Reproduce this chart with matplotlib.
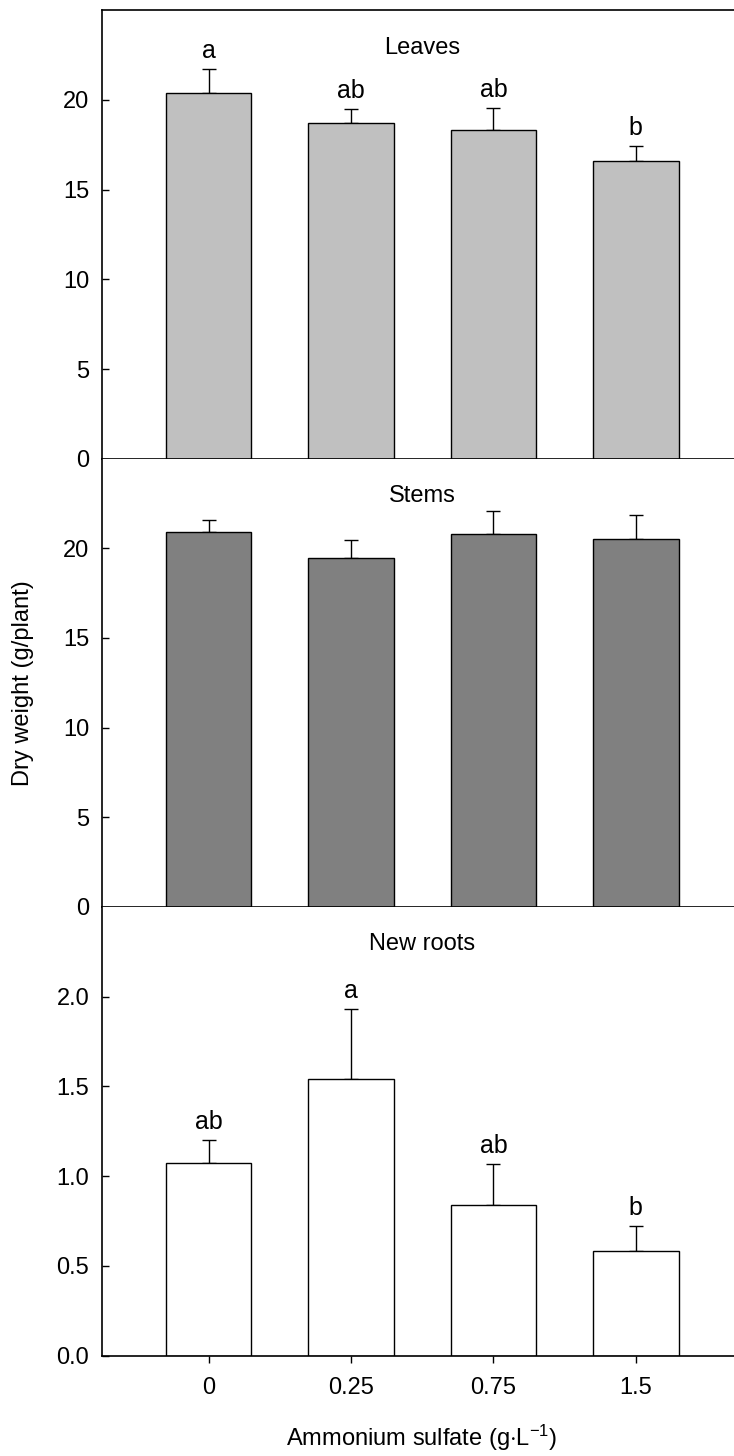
import matplotlib
matplotlib.use('Agg')
import matplotlib.pyplot as plt
import numpy as np

plt.rcParams['font.family'] = ['Liberation Sans', 'DejaVu Sans']
plt.rcParams['mathtext.fontset'] = 'custom'
plt.rcParams['mathtext.rm'] = 'Liberation Sans'
plt.rcParams['mathtext.it'] = 'Liberation Sans:italic'

# data
doses = ['0', '0.25', '0.75', '1.5']
leaves = [20.4, 18.72, 18.31, 16.6]
leaves_err = [1.3, 0.77, 1.25, 0.82]
leaves_letters = ['a', 'ab', 'ab', 'b']
stems = [20.93, 19.45, 20.8, 20.54]
stems_err = [0.67, 1.02, 1.29, 1.31]
roots = [1.072, 1.543, 0.840, 0.584]
roots_err = [0.131, 0.389, 0.226, 0.137]
roots_letters = ['ab', 'a', 'ab', 'b']

fs = 17
W, H = 734, 1456
fig = plt.figure(figsize=(W / 100, H / 100), dpi=100)

# axes span 4.5 bar slots of ~142.4 px; right edge falls just past the image
left = 101.7 / W
width = 641 / W
tops = [10.3, 458.7, 906.8]
bots = [458.7, 906.8, 1355.7]

panels = [
    ('Leaves', leaves, leaves_err, leaves_letters, '#c0c0c0', 25, [0, 5, 10, 15, 20], ['0', '5', '10', '15', '20']),
    ('Stems', stems, stems_err, None, '#808080', 25, [0, 5, 10, 15, 20], ['0', '5', '10', '15', '20']),
    ('New roots', roots, roots_err, roots_letters, 'white', 2.5, [0, 0.5, 1.0, 1.5, 2.0], ['0.0', '0.5', '1.0', '1.5', '2.0']),
]

x = np.arange(len(doses))
for i, (name, vals, errs, letters, col, ymax, yt, ytl) in enumerate(panels):
    ax = fig.add_axes([left, 1 - bots[i] / H, width, (bots[i] - tops[i]) / H])
    ax.bar(x, vals, width=0.6, color=col, edgecolor='black', linewidth=1.0, zorder=2)
    ax.errorbar(x, vals, yerr=[np.zeros(len(vals)), errs], fmt='none', ecolor='black',
                elinewidth=1.0, capsize=5, capthick=1.0, zorder=1)
    ax.set_xlim(-0.75, 3.75)
    ax.set_ylim(0, ymax)
    ax.set_yticks(yt)
    ax.set_yticklabels(ytl)
    ax.tick_params(axis='y', direction='in', length=5, width=1.0, pad=9, labelsize=fs)
    ax.spines['right'].set_visible(False)
    for s in ['left', 'bottom', 'top']:
        ax.spines[s].set_linewidth(1.2)
    if i > 0:
        ax.spines['top'].set_visible(False)
    if i < 2:
        ax.set_xticks([])
    else:
        ax.set_xticks(x)
        ax.set_xticklabels(doses)
        ax.tick_params(axis='x', direction='out', length=5, width=1.0, pad=10.5, labelsize=fs)
    ax.text(0.5, 0.917, name, transform=ax.transAxes, ha='center', va='center', fontsize=fs)
    if letters is not None:
        for xi, v, e, lab in zip(x, vals, errs, letters):
            ax.annotate(lab, (xi, v + e), xytext=(0, 8), textcoords='offset points',
                        ha='center', va='baseline', fontsize=fs + 1)

fig.text(23 / W, 1 - 683 / H, 'Dry weight (g/plant)', rotation=90, ha='center', va='center', fontsize=fs)
fig.text(422 / W, 1 - 1438 / H, r'Ammonium sulfate (g$\cdot$L$^{-1}$)', ha='center', va='center', fontsize=fs)

fig.savefig('out.png', dpi=100)
